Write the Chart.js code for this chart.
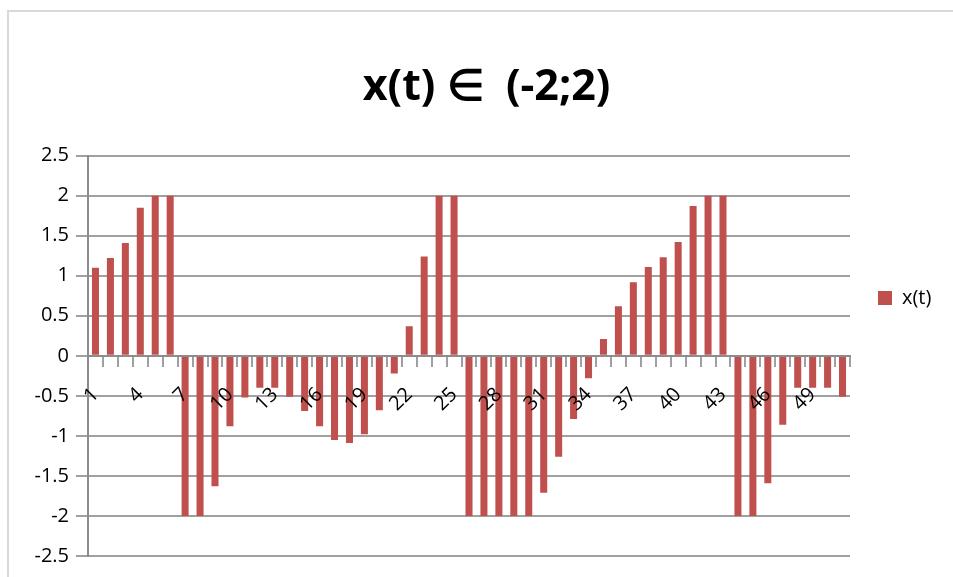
<!DOCTYPE html>
<html>
<head>
<meta charset="utf-8">
<style>
  html, body { margin: 0; padding: 0; background: #fff; }
  #wrap { width: 953px; height: 577px; }
</style>
<script src="https://cdn.jsdelivr.net/npm/chart.js@4/dist/chart.umd.min.js"></script>
</head>
<body>
<div id="wrap"><canvas id="chart" width="953" height="577"></canvas></div>
<script>
const chartTitle = 'x(t) \u2208  (-2;2)'
const seriesName = 'x(t)'
const categories = [
  '1', '2', '3', '4', '5', '6', '7', '8', '9', '10',
  '11', '12', '13', '14', '15', '16', '17', '18', '19', '20',
  '21', '22', '23', '24', '25', '26', '27', '28', '29', '30',
  '31', '32', '33', '34', '35', '36', '37', '38', '39', '40',
  '41', '42', '43', '44', '45', '46', '47', '48', '49', '50', '51'
]
const values = [
  1.1, 1.22, 1.41, 1.85, 2, 2, -2, -2, -1.63, -0.88,
  -0.52, -0.4, -0.4, -0.51, -0.69, -0.88, -1.05, -1.09, -0.98, -0.68,
  -0.22, 0.37, 1.24, 2, 2, -2, -2, -2, -2, -2,
  -1.71, -1.26, -0.79, -0.28, 0.21, 0.62, 0.92, 1.11, 1.23, 1.42,
  1.87, 2, 2, -2, -2, -1.59, -0.86, -0.4, -0.4, -0.4, -0.51
]
const yMin = -2.5
const yMax = 2.5
const yStep = 0.5

const labelFont = { family: '"Open Sans", sans-serif', size: 20 }
const gridColor = '#a0a0a0'
const axisColor = '#8c8c8c'

// legend width is measured so the plot ends where the reference does
const measure = document.createElement('canvas').getContext('2d')
measure.font = labelFont.size + 'px "Open Sans"'
const legendPad = 28
const legendWidth = legendPad + 14 + labelFont.size / 2 + measure.measureText(seriesName).width + 10
const padRight = 103 - legendWidth
const padLeft = padRight + 20

const frame = {
  id: 'frame',
  beforeDraw(chart) {
    const ctx = chart.ctx
    ctx.save()
    ctx.fillStyle = '#fff'
    ctx.fillRect(0, 0, chart.width, chart.height)
    ctx.strokeStyle = '#d9d9d9'
    ctx.lineWidth = 2
    ctx.strokeRect(8, 11, chart.width + 20, chart.height + 20)
    ctx.restore()
  }
}

new Chart(document.getElementById('chart').getContext('2d'), {
  type: 'bar',
  data: {
    labels: categories,
    datasets: [
      {
        label: seriesName,
        backgroundColor: '#c0504d',
        borderWidth: 0,
        data: values,
        barPercentage: 0.47,
        categoryPercentage: 1,
      }
    ],
  },
  options: {
    responsive: false,
    animation: false,
    layout: { padding: { left: padLeft, right: padRight, top: 40, bottom: 21 } },
    plugins: {
      title: {
        display: true,
        text: chartTitle,
        color: '#000',
        font: { family: '"Open Sans", sans-serif', size: 43, weight: 'bold' },
        padding: { top: 22, bottom: 42 },
      },
      legend: {
        position: 'right',
        labels: {
          boxWidth: 14,
          boxHeight: 14,
          padding: legendPad,
          color: '#000',
          font: labelFont,
        },
      },
      tooltip: { enabled: false },
    },
    scales: {
      x: {
        position: { y: 0 },
        offset: true,
        grid: {
          offset: true,
          drawOnChartArea: false,
          drawTicks: true,
          tickLength: 10,
          color: gridColor,
          lineWidth: 2,
        },
        border: { display: true, color: axisColor, width: 2, z: 1 },
        ticks: {
          z: 1,
          autoSkip: false,
          minRotation: 45,
          maxRotation: 45,
          padding: 17,
          color: '#000',
          font: labelFont,
          callback: (v, i) => (i % 3 === 0 ? categories[i] : ''),
        },
      },
      y: {
        min: yMin,
        max: yMax,
        afterFit: s => { s.width = 88 - padLeft },
        grid: {
          color: gridColor,
          lineWidth: 2,
          tickLength: 12,
        },
        border: { display: true, color: axisColor, width: 2 },
        ticks: {
          stepSize: yStep,
          padding: 7,
          color: '#000',
          font: labelFont,
          callback: v => String(Math.round(v * 10) / 10),
        },
      },
    },
  },
  plugins: [frame],
})
</script>
</body>
</html>
